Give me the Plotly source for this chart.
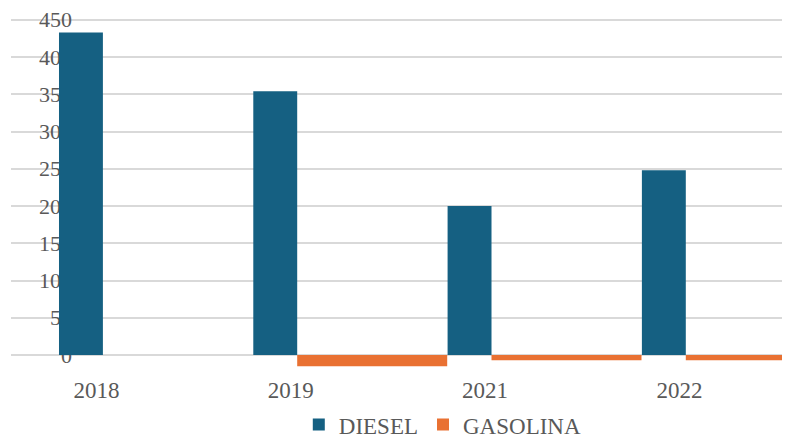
import plotly.graph_objects as go

years = ["2018", "2019", "2021", "2022"]
diesel = [433, 354, 200, 248]
gasolina = [0, -15, -7, -7]
y_ticks = [0, 50, 100, 150, 200, 250, 300, 350, 400, 450]

FONT = "Times New Roman"
GRAY = "#595959"

fig = go.Figure()
fig.add_trace(go.Bar(
    x=years, y=diesel, name="DIESEL",
    marker=dict(color="#156082", line=dict(width=0)),
    offset=-0.193, width=0.226,
))
fig.add_trace(go.Bar(
    x=years, y=gasolina, name="GASOLINA",
    marker=dict(color="#E97132", line=dict(width=0)),
    offset=0.033, width=0.772,
))

fig.update_layout(
    width=782, height=434,
    margin=dict(l=3, r=2, t=2, b=72, pad=0, autoexpand=False),
    paper_bgcolor="white", plot_bgcolor="white",
    barmode="overlay",
    font=dict(family=FONT, size=22, color=GRAY),
    xaxis=dict(
        type="category", range=[-0.44, 3.559],
        showgrid=False, zeroline=False, showline=False, ticks="",
        tickfont=dict(family=FONT, size=23, color=GRAY),
        ticklabelstandoff=4, automargin=False,
    ),
    yaxis=dict(
        range=[-20.1, 463.1],
        tickvals=y_ticks,
        showgrid=True, gridcolor="#d9d9d9", gridwidth=1.5,
        zeroline=False, showline=False, ticks="",
        anchor="free", position=0.081,
        layer="below traces", automargin=False,
        ticklabeloverflow="allow",
        tickfont=dict(family=FONT, size=22, color=GRAY),
        ticklabelstandoff=2,
    ),
    legend=dict(
        orientation="h", xref="container", yref="container",
        x=0.556, xanchor="center",
        y=0.04, yanchor="middle",
        font=dict(family=FONT, size=23, color=GRAY),
        traceorder="normal",
    ),
    showlegend=True,
)

fig.write_html("out.html")
